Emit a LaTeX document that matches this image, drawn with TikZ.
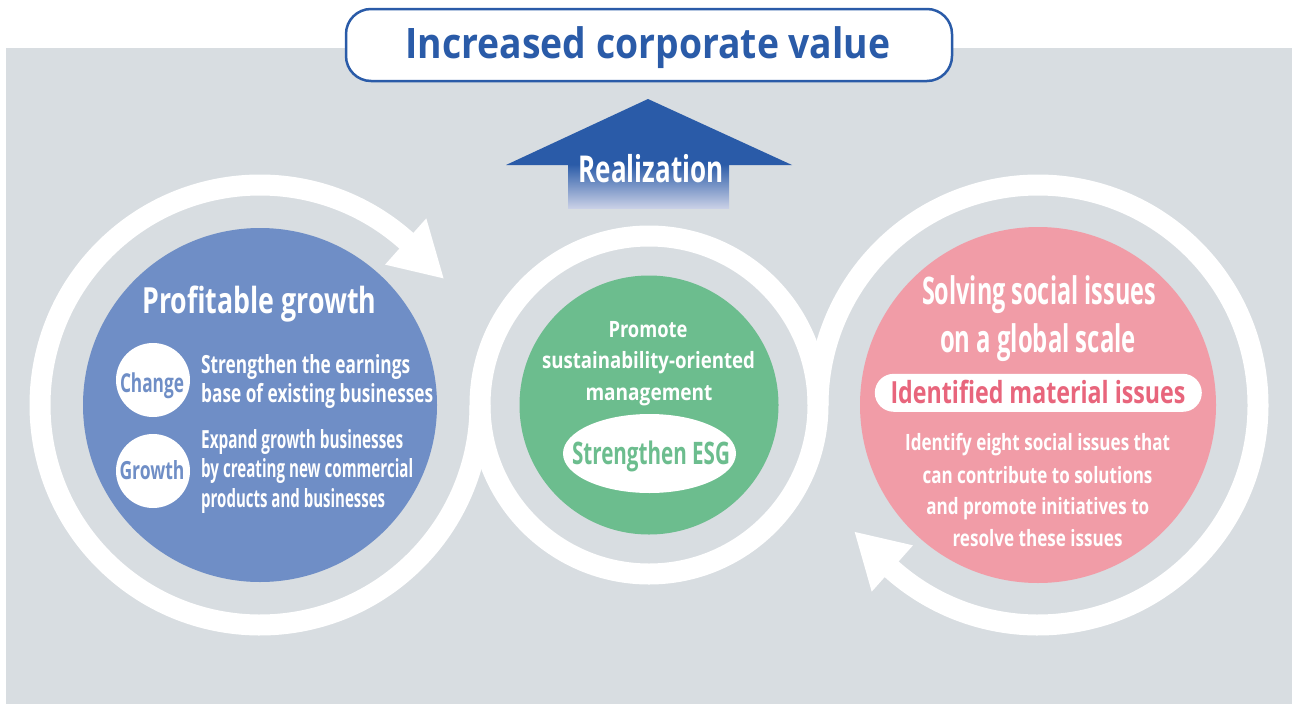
\documentclass[tikz,border=0pt]{standalone}
\usepackage{fontspec}
\setmainfont{Open Sans}
\usepackage{graphicx}
\usetikzlibrary{calc,shapes.geometric}
\definecolor{bggray}{HTML}{D8DDE1}
\definecolor{tblue}{HTML}{2A5BA8}
\definecolor{cblue}{HTML}{6F8EC6}
\definecolor{cgreen}{HTML}{6CBD8E}
\definecolor{cpink}{HTML}{F19CA7}
\definecolor{tpink}{HTML}{E8657C}
\definecolor{shaftlow}{HTML}{C9D0E6}
\newcommand\fitw[3]{\resizebox{#1pt}{\height}{\fontsize{#2}{#2}\selectfont\bfseries #3}}
\begin{document}
\begin{tikzpicture}[x=1pt,y=-1pt,
  txt/.style={inner sep=0pt, anchor=base},
  txtl/.style={inner sep=0pt, anchor=base west, text=white},
  ring/.style={draw=white, line width=21pt},
  bigdisc/.style={circle, inner sep=0pt, minimum size=#1},
  tag/.style={circle, fill=white, inner sep=0pt, minimum size=74pt}]
\useasboundingbox (0,0) rectangle (1292,704);
\fill[bggray] (6,48) rectangle (1292,704);

\coordinate (L) at (260,405);
\coordinate (M) at (649,405);
\coordinate (R) at (1038,405);

% rings
\draw[ring] (M) circle[radius=169];
\draw[ring] (L) ++(-46:220) arc[start angle=-46, end angle=-360, radius=220];
\fill[white] ($(L)+(-48.3:188)$) -- ($(L)+(-34.6:223)$) -- ($(L)+(-48.3:250)$) -- cycle;
\draw[ring] (R) ++(-226:220) arc[start angle=-226, end angle=-540, radius=220];
\fill[white] ($(R)+(-228.3:188)$) -- ($(R)+(-214.7:223)$) -- ($(R)+(-228.3:250)$) -- cycle;

% discs
\node[bigdisc=354pt, fill=cblue] (pg) at (L) {};
\node[bigdisc=259pt, fill=cgreen] (sm) at (M) {};
\node[bigdisc=356pt, fill=cpink] (ss) at (R) {};

% title box
\node[draw=tblue, line width=2.5pt, fill=white, rounded corners=25pt,
      minimum width=606pt, minimum height=72pt, inner sep=0pt] (tb) at (649,45) {};
\node[txt, text=tblue] (tt) at (648,58) {\fitw{485}{42}{Increased corporate value}};

% realization arrow
\shade[top color=tblue, bottom color=shaftlow] (568,164) rectangle (729,208);
\fill[tblue] (506,165) -- (648,99) -- (792,165) -- cycle;
\node[txt, text=white] (rl) at (651,182) {\fitw{145}{37}{Realization}};

% left circle
\node[txt, text=white] (pgt) at (259.5,313) {\fitw{234}{36}{Profitable growth}};
\node[tag] (ch) at (153,380) {};
\node[txt, text=cblue] (cht) at (152,392) {\fitw{64}{26}{Change}};
\node[tag] (gr) at (153,471) {};
\node[txt, text=cblue] (grt) at (152,479) {\fitw{65}{25}{Growth}};
\node[txtl] (l1) at (201,373) {\fitw{209}{25}{Strengthen the earnings}};
\node[txtl] (l2) at (201,402) {\fitw{232}{25}{base of existing businesses}};
\node[txtl] (l3) at (201,448) {\fitw{202}{25}{Expand growth businesses}};
\node[txtl] (l4) at (201,477) {\fitw{212}{25}{by creating new commercial}};
\node[txtl] (l5) at (201,507) {\fitw{184}{25}{products and businesses}};

% middle circle
\node[txt, text=white] (m1) at (648,337) {\fitw{79}{22.5}{Promote}};
\node[txt, text=white] (m2) at (648.5,368) {\fitw{213}{22.5}{sustainability-oriented}};
\node[txt, text=white] (m3) at (649,400) {\fitw{127}{22.5}{management}};
\node[ellipse, fill=white, inner sep=0pt, minimum width=173pt, minimum height=79pt] (esg) at (649.5,453.5) {};
\node[txt, text=cgreen] (esgt) at (651,464) {\fitw{158}{31}{Strengthen ESG}};

% right circle
\node[txt, text=white] (r1) at (1039,304) {\fitw{234}{38}{Solving social issues}};
\node[txt, text=white] (r2) at (1038,352) {\fitw{196}{38}{on a global scale}};
\node[fill=white, rounded corners=19pt, inner sep=0pt, minimum width=327pt, minimum height=38pt] (pill) at (1038.3,392.8) {};
\node[txt, text=tpink] (pillt) at (1038,403.3) {\fitw{295}{30.5}{Identified material issues}};
\node[txt, text=white] (b1) at (1037.6,450.7) {\fitw{265}{22.5}{Identify eight social issues that}};
\node[txt, text=white] (b2) at (1037.5,483.3) {\fitw{230}{22.5}{can contribute to solutions}};
\node[txt, text=white] (b3) at (1037.8,514) {\fitw{223}{22.5}{and promote initiatives to}};
\node[txt, text=white] (b4) at (1037.5,546) {\fitw{170}{22.5}{resolve these issues}};
\end{tikzpicture}
\end{document}
